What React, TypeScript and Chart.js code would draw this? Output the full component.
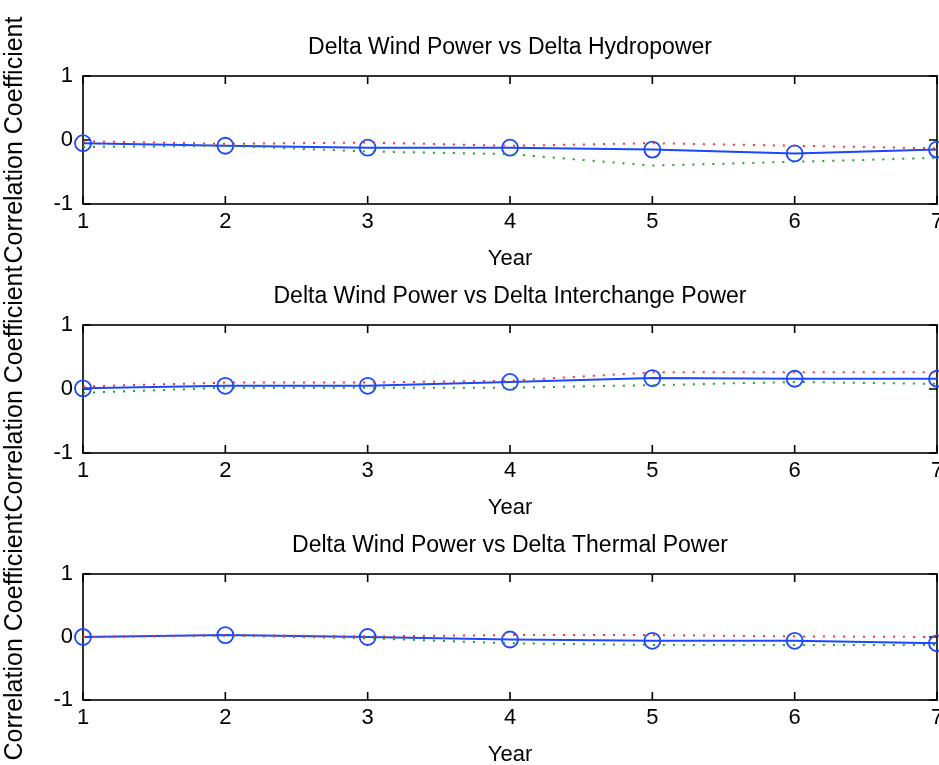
import React, { useEffect, useRef } from 'react';
import { Chart, registerables } from 'chart.js';

Chart.register(...registerables);

// ---------- data ----------
const years = [1, 2, 3, 4, 5, 6, 7];
const yTickValues = [-1, 0, 1];

const panelTitles = [
  'Delta Wind Power vs Delta Hydropower',
  'Delta Wind Power vs Delta Interchange Power',
  'Delta Wind Power vs Delta Thermal Power',
];
const xAxisLabel = 'Year';
const yAxisLabel = 'Correlation Coefficient';

const hydroCorr = [-0.05, -0.09, -0.12, -0.12, -0.15, -0.21, -0.15];
const hydroUpper = [-0.02, -0.06, -0.04, -0.09, -0.05, -0.09, -0.13];
const hydroLower = [-0.11, -0.09, -0.18, -0.22, -0.40, -0.34, -0.28];

const interCorr = [0.01, 0.05, 0.05, 0.11, 0.17, 0.16, 0.16];
const interUpper = [0.04, 0.10, 0.10, 0.13, 0.26, 0.26, 0.26];
const interLower = [-0.06, 0.02, 0.02, 0.02, 0.06, 0.11, 0.08];

const thermalCorr = [0.0, 0.03, 0.0, -0.04, -0.06, -0.06, -0.10];
const thermalUpper = [0.0, 0.03, 0.01, 0.03, 0.03, 0.01, 0.0];
const thermalLower = [0.0, 0.02, -0.02, -0.10, -0.125, -0.125, -0.125];

const corrSeries = [hydroCorr, interCorr, thermalCorr];
const upperSeries = [hydroUpper, interUpper, thermalUpper];
const lowerSeries = [hydroLower, interLower, thermalLower];

// ---------- layout / style ----------
const FONT = "'Liberation Sans', Arial, Helvetica, sans-serif";
const CANVAS_W = 1000;
const CANVAS_H = 765;
const PLOT_LEFT = 83;
const PLOT_RIGHT = 937;
const panelBoxes = [
  { top: 76, bottom: 204 },
  { top: 325, bottom: 453 },
  { top: 574, bottom: 700 },
];
const TITLE_SIZE = 23;
const LABEL_SIZE = 22;
const YTITLE_SIZE = 25;
const X_AXIS_H = 68;

const BLUE = '#1a47ff';
const RED = '#ff3030';
const GREEN = '#22a022';

const boxPlugin = {
  id: 'matlabBox',
  beforeDatasetsDraw(chart: any) {
    const { ctx, chartArea, scales } = chart;
    const { left, right, top, bottom } = chartArea;
    const x = scales.x;
    const y = scales.y;
    const tl = 8;
    ctx.save();
    ctx.strokeStyle = '#000';
    ctx.lineWidth = 1.6;
    ctx.strokeRect(left, top, right - left, bottom - top);
    ctx.beginPath();
    x.ticks.forEach((t: any) => {
      const px = x.getPixelForValue(t.value);
      ctx.moveTo(px, bottom);
      ctx.lineTo(px, bottom - tl);
      ctx.moveTo(px, top);
      ctx.lineTo(px, top + tl);
    });
    y.ticks.forEach((t: any) => {
      const py = y.getPixelForValue(t.value);
      ctx.moveTo(left, py);
      ctx.lineTo(left + tl, py);
      ctx.moveTo(right, py);
      ctx.lineTo(right - tl, py);
    });
    ctx.stroke();
    ctx.restore();
  },
};

function pts(vals: number[]) {
  return years.map((x, i) => ({ x, y: vals[i] }));
}

function makeConfig(idx: number): any {
  const box = panelBoxes[idx];
  const titleLH = TITLE_SIZE * 1.2;
  const titleCenter = box.top - 28;
  const padTop = titleCenter - titleLH / 2;
  const titlePadBottom = box.top - padTop - titleLH;
  const padBottom = CANVAS_H - box.bottom - X_AXIS_H;
  const labelLH = LABEL_SIZE * 1.2;
  return {
    type: 'line',
    data: {
      datasets: [
        {
          data: pts(upperSeries[idx]),
          borderColor: RED,
          borderWidth: 2,
          borderDash: [2, 8],
          pointRadius: 0,
          fill: false,
          tension: 0,
          clip: false,
        },
        {
          data: pts(lowerSeries[idx]),
          borderColor: GREEN,
          borderWidth: 2,
          borderDash: [2, 8],
          pointRadius: 0,
          fill: false,
          tension: 0,
          clip: false,
        },
        {
          data: pts(corrSeries[idx]),
          borderColor: BLUE,
          borderWidth: 2,
          pointStyle: 'circle',
          pointRadius: 8,
          pointBorderWidth: 1.8,
          pointBorderColor: BLUE,
          pointBackgroundColor: 'rgba(0,0,0,0)',
          fill: false,
          tension: 0,
          clip: false,
        },
      ],
    },
    options: {
      responsive: false,
      animation: false,
      devicePixelRatio: 1,
      events: [],
      layout: {
        padding: { top: padTop, bottom: padBottom, left: 0, right: CANVAS_W - PLOT_RIGHT },
      },
      plugins: {
        legend: { display: false },
        tooltip: { enabled: false },
        title: {
          display: true,
          text: panelTitles[idx],
          color: '#000',
          fullSize: false,
          font: { family: FONT, size: TITLE_SIZE, weight: 'normal', lineHeight: 1.2 },
          padding: { top: 0, bottom: titlePadBottom },
        },
      },
      scales: {
        x: {
          type: 'linear',
          min: 1,
          max: 7,
          ticks: {
            stepSize: 1,
            color: '#000',
            font: { family: FONT, size: LABEL_SIZE, lineHeight: 1.2 },
            padding: 18 - labelLH / 2,
            maxRotation: 0,
            autoSkip: false,
          },
          grid: { display: false, drawTicks: false },
          border: { display: false },
          title: {
            display: true,
            text: xAxisLabel,
            color: '#000',
            font: { family: FONT, size: LABEL_SIZE, lineHeight: 1.2 },
            padding: 0,
          },
          afterFit: (s: any) => {
            s.height = X_AXIS_H;
          },
        },
        y: {
          type: 'linear',
          min: -1,
          max: 1,
          afterBuildTicks: (s: any) => {
            s.ticks = yTickValues.map((v) => ({ value: v }));
          },
          ticks: {
            color: '#000',
            font: { family: FONT, size: LABEL_SIZE, lineHeight: 1.2 },
            padding: 10,
          },
          grid: { display: false, drawTicks: false },
          border: { display: false },
          title: {
            display: true,
            text: yAxisLabel,
            color: '#000',
            font: { family: FONT, size: YTITLE_SIZE, lineHeight: 1.2 },
            padding: 0,
          },
          afterFit: (s: any) => {
            s.width = PLOT_LEFT;
          },
        },
      },
    },
    plugins: [boxPlugin],
  };
}

function Panel({ idx }: { idx: number }) {
  const ref = useRef<HTMLCanvasElement | null>(null);
  useEffect(() => {
    if (!ref.current) return;
    const chart = new Chart(ref.current, makeConfig(idx));
    return () => chart.destroy();
  }, [idx]);
  return (
    <canvas
      ref={ref}
      width={CANVAS_W}
      height={CANVAS_H}
      style={{ position: 'absolute', left: 0, top: 0, width: CANVAS_W, height: CANVAS_H, pointerEvents: 'none' }}
    />
  );
}

export default function App() {
  return (
    <div
      style={{
        position: 'fixed',
        left: 0,
        top: 0,
        width: 939,
        height: 765,
        overflow: 'hidden',
        background: '#fff',
      }}
    >
      {[0, 1, 2].map((i) => (
        <Panel key={i} idx={i} />
      ))}
    </div>
  );
}
